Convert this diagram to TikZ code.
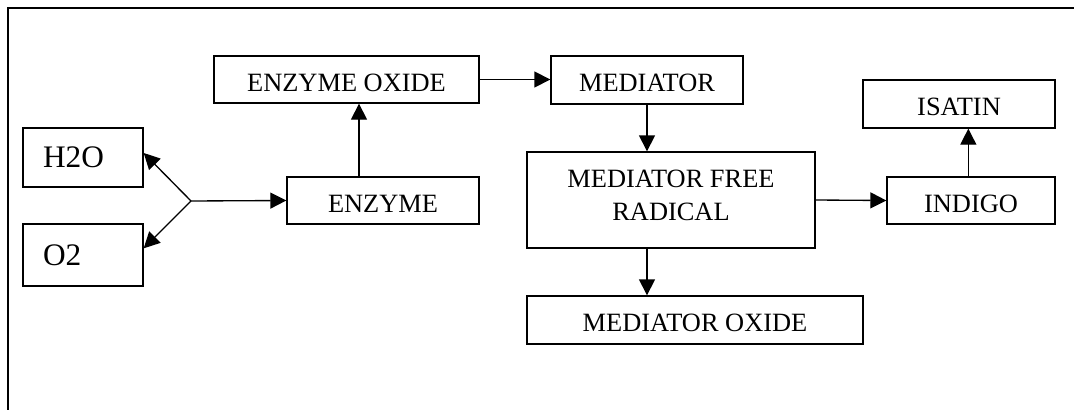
\documentclass[tikz,border=0pt]{standalone}
\usepackage{fontspec}
\setmainfont{Liberation Serif}
\usetikzlibrary{arrows.meta}
\begin{document}
\begin{tikzpicture}[x=0.75pt,y=-0.75pt,line width=1pt,
    box/.style={draw,inner sep=0pt,text height=17.6pt,text depth=0pt,font=\fontsize{19.8pt}{24.8pt}\selectfont},
    small/.style={draw,inner xsep=15pt,inner ysep=0pt,align=left,text width=60pt,minimum width=90pt,font=\fontsize{23.5pt}{28pt}\selectfont},
    >={Triangle[length=12pt,width=12pt]}]
            \useasboundingbox (0,0) rectangle (1074,410);
            \draw (8,410) -- (8,8) -- (1074,8);
            \node[small,minimum height=44.25pt] (H) at (83,157.5){H2O};
            \node[small,minimum height=46.5pt] (O) at (83,255){O2};
            \coordinate (J) at (191,201);
            \node[box,minimum width=144pt,minimum height=35.25pt] (E) at (383,200.5){ENZYME};
            \node[box,minimum width=198.75pt,minimum height=35.25pt] (EO) at (346.5,79.5){ENZYME OXIDE};
            \node[box,minimum width=144pt,minimum height=36pt] (M) at (647,80){MEDIATOR};
            \node[draw,inner sep=0pt,font=\fontsize{19.8pt}{24.8pt}\selectfont,text depth=6.75pt,minimum width=216pt,minimum height=72pt,align=center] (MF) at (671,200){MEDIATOR FREE\\RADICAL};
            \node[box,minimum width=252pt,minimum height=36pt] (MO) at (695,320){MEDIATOR OXIDE};
            \node[box,minimum width=126pt,minimum height=35.25pt] (IN) at (971,200.5){INDIGO};
            \node[box,minimum width=144pt,minimum height=36pt] (IS) at (959,104){ISATIN};
            \draw[->] (J) -- ([yshift=3.4pt]H.east);
            \draw[->] (J) -- ([yshift=5pt]O.east);
            \draw[->] (J) -- (E.west);
            \draw[->] ([xshift=-18pt]E.north) -- ([xshift=-18pt]E.north |- EO.south);
            \draw[->] (EO.east) -- (EO.east -| M.west);
            \draw[->] (M.south) -- (M.south |- MF.north);
            \draw[->] (MF.south -| M.south) -- (MO.north -| M.south);
            \draw[->] (MF.east) -- (IN.west);
            \draw[->] ([xshift=-2pt]IN.north) -- ([xshift=-2pt]IN.north |- IS.south);
        \end{tikzpicture}
\end{document}
